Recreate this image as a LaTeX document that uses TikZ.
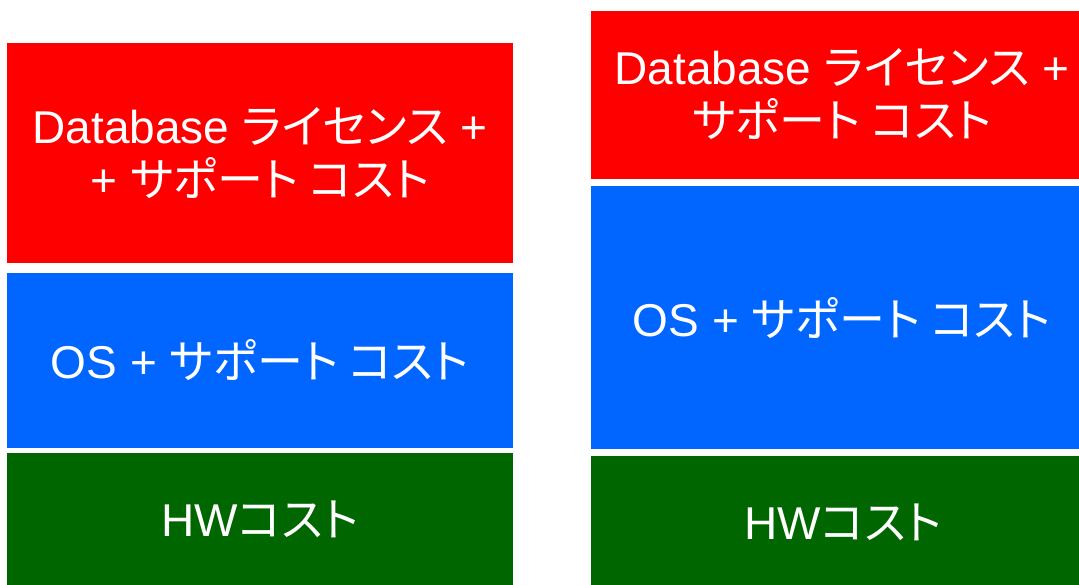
\documentclass[tikz,border=0pt]{standalone}
\usepackage{fontspec}
\setmainfont{Liberation Sans}
\newfontfamily\jp{Noto Sans CJK JP}[RawFeature=+palt]
\definecolor{cred}{HTML}{FF0000}
\definecolor{cblue}{HTML}{0066FF}
\definecolor{cgreen}{HTML}{006600}
\begin{document}
\begin{tikzpicture}[x=1pt,y=-1pt,
  block/.style={rectangle,inner sep=0pt,outer sep=0pt,draw=none},
  label/.style={text=white,align=center,inner sep=0pt,font=\fontsize{46}{53}\selectfont}]
\useasboundingbox (0,0) rectangle (1079,585);
% left column
\node[block,fill=cred,minimum width=506pt,minimum height=220pt] (lr) at (260,153) {};
\node[block,fill=cblue,minimum width=506pt,minimum height=175pt] (lb) at (260,360.5) {};
\node[block,fill=cgreen,minimum width=506pt,minimum height=132pt] (lg) at (260,519) {};
% right column
\node[block,fill=cred,minimum width=488pt,minimum height=168pt] (rr) at (835,95) {};
\node[block,fill=cblue,minimum width=488pt,minimum height=263pt] (rb) at (835,317.5) {};
\node[block,fill=cgreen,minimum width=488pt,minimum height=129pt] (rg) at (835,520.5) {};
% labels
\node[label] (lrt) at (260,153) {Database {\jp ライセンス} +\\+ {\jp サポート コスト}};
\node[label] (lbt) at (260,360) {OS + {\jp サポート コスト}};
\node[label] (lgt) at (260,519) {HW{\jp コスト}};
\node[label] (rrt) at (842,94) {Database {\jp ライセンス} +\\{\jp サポート コスト}};
\node[label] (rbt) at (842,318) {OS + {\jp サポート コスト}};
\node[label] (rgt) at (843,522) {HW{\jp コスト}};
\end{tikzpicture}
\end{document}
